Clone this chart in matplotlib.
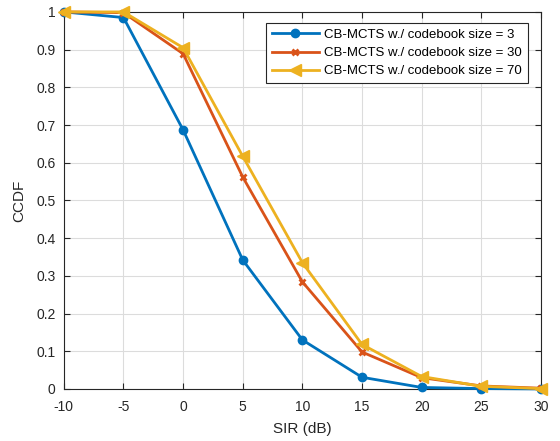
import matplotlib
matplotlib.use('Agg')
import matplotlib.pyplot as plt

plt.rcParams['font.family'] = ['Liberation Sans', 'DejaVu Sans']
plt.rcParams['axes.unicode_minus'] = False

sir = [-10, -5, 0, 5, 10, 15, 20, 25, 30]
ccdf_3 = [1.0, 0.985, 0.687, 0.342, 0.130, 0.031, 0.004, 0.001, 0.0]
ccdf_30 = [1.0, 0.998, 0.889, 0.562, 0.284, 0.098, 0.030, 0.008, 0.002]
ccdf_70 = [1.0, 1.0, 0.905, 0.617, 0.335, 0.118, 0.033, 0.007, 0.001]

labels = ['CB-MCTS w./ codebook size = 3',
          'CB-MCTS w./ codebook size = 30',
          'CB-MCTS w./ codebook size = 70']

fig = plt.figure(figsize=(5.6, 4.41), dpi=100)
ax = fig.add_axes([0.114, 0.118, 0.852, 0.855])

ax.plot(sir, ccdf_3, color='#0072BD', lw=2, marker='o', ms=6, label=labels[0], clip_on=False, zorder=3)
ax.plot(sir, ccdf_30, color='#D95319', lw=2, marker='x', ms=5, mew=2, label=labels[1], clip_on=False, zorder=4)
ax.plot(sir, ccdf_70, color='#EDB120', lw=2, marker='<', ms=9, label=labels[2], clip_on=False, zorder=5)

ax.set_xlim(-10, 30)
ax.set_ylim(0, 1)
ax.set_xticks(range(-10, 31, 5))
ax.set_yticks([i / 10 for i in range(11)])
ax.set_yticklabels(['0', '0.1', '0.2', '0.3', '0.4', '0.5', '0.6', '0.7', '0.8', '0.9', '1'])
ax.grid(True, color='#dcdcdc', lw=0.8)
ax.set_axisbelow(True)
ax.tick_params(direction='in', top=True, right=True, labelsize=10, colors='#262626', length=4)
ax.tick_params(axis='x', pad=8)
ax.tick_params(axis='y', pad=6)
for s in ax.spines.values():
    s.set_color('#262626')
    s.set_linewidth(0.8)

ax.set_xlabel('SIR (dB)', fontsize=11, color='#262626', labelpad=6)
ax.set_ylabel('CCDF', fontsize=11, color='#262626', labelpad=7)

leg = ax.legend(loc='upper right', fontsize=9.5, fancybox=False, framealpha=1,
                edgecolor='#262626', handlelength=3.6, handletextpad=0.4,
                borderpad=0.45, labelspacing=0.45, borderaxespad=0,
                bbox_to_anchor=(0.973, 0.971))
leg.get_frame().set_linewidth(0.8)

fig.savefig('out.png', dpi=100)
